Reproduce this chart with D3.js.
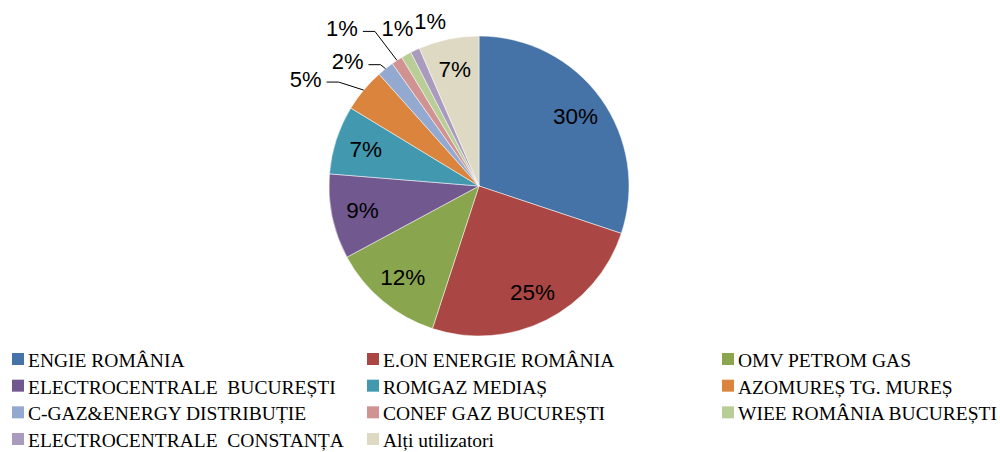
<!DOCTYPE html>
<html>
<head>
<meta charset="utf-8">
<script src="https://cdn.jsdelivr.net/npm/d3@7"></script>
<style>
  body { margin: 0; background: #fff; }
  svg text { white-space: pre; }
</style>
</head>
<body>
<div id="chart"></div>
<script>
// share of gas consumption per user
var names = ["ENGIE ROMÂNIA", "E.ON ENERGIE ROMÂNIA", "OMV PETROM GAS",
    "ELECTROCENTRALE  BUCUREȘTI", "ROMGAZ MEDIAȘ", "AZOMUREȘ TG. MUREȘ",
    "C-GAZ&ENERGY DISTRIBUȚIE", "CONEF GAZ BUCUREȘTI", "WIEE ROMÂNIA BUCUREȘTI",
    "ELECTROCENTRALE  CONSTANȚA", "Alți utilizatori"]
var shares = [30.1, 24.9, 12.1, 9.15, 7.4, 4.7, 1.8, 1.2, 1.1, 1.0, 6.5]
var labels = ["30%", "25%", "12%", "9%", "7%", "5%", "2%", "1%", "1%", "1%", "7%"]
var colors = ["#4572A7", "#AA4643", "#89A54E", "#71588F", "#4198AF", "#DB843D",
    "#93A9CF", "#D19392", "#B9CD96", "#A99BBD", "#DDD9C3"]

// small slices get their label outside, nudged from the slice edge (layout only)
var outside = { 5: [-58, -11, true], 6: [-38, -7, true], 7: [-55, -32, true], 8: [-9, -26, false], 9: [15, -29, false] }

var width = 1000, height = 452
var cx = 479, cy = 186, radius = 150

var svg = d3.select("#chart").append("svg")
    .attr("width", width)
    .attr("height", height)

var g = svg.append("g")
    .attr("transform", "translate(" + cx + "," + cy + ")")

var pie = d3.pie().sort(null).value(function (d) { return d })
var arcs = pie(shares)

var arc = d3.arc().innerRadius(0).outerRadius(radius)
var labelArc = d3.arc().innerRadius(119).outerRadius(119)
var edgeArc = d3.arc().innerRadius(radius).outerRadius(radius)

g.selectAll("path.slice")
    .data(arcs)
    .enter()
    .append("path")
    .attr("class", "slice")
    .attr("d", arc)
    .attr("fill", function (d, i) { return colors[i] })
    .attr("stroke", "#fff")
    .attr("stroke-width", 0.5)

var font = "'Liberation Sans', Arial, sans-serif"

arcs.forEach(function (d, i) {
    var o = outside[i]
    if (!o) {
        var p = labelArc.centroid(d)
        g.append("text")
            .attr("x", p[0])
            .attr("y", p[1])
            .attr("text-anchor", "middle")
            .attr("dominant-baseline", "central")
            .attr("font-family", font)
            .attr("font-size", 22.5)
            .attr("fill", "#000")
            .text(labels[i])
        return
    }
    var e = edgeArc.centroid(d)
    var lx = e[0] + o[0], ly = e[1] + o[1]
    var t = g.append("text")
        .attr("x", lx)
        .attr("y", ly)
        .attr("text-anchor", "middle")
        .attr("dominant-baseline", "central")
        .attr("font-family", font)
        .attr("font-size", 22)
        .attr("fill", "#000")
        .text(labels[i])
    if (o[2]) {
        var w = t.node().getComputedTextLength()
        var sx = lx + w / 2 + 5
        var sy = ly + 3
        g.append("polyline")
            .attr("points", [[sx, sy], [sx + 12, sy], [e[0], e[1]]].map(function (q) { return q.join(",") }).join(" "))
            .attr("fill", "none")
            .attr("stroke", "#000")
            .attr("stroke-width", 1)
    }
})

// legend, 3 columns
var legend = svg.append("g")
var colX = d3.scalePoint().domain([0, 1, 2]).range([12, 722])
var rowY = d3.scalePoint().domain([0, 1, 2, 3]).range([367, 447])

names.forEach(function (n, i) {
    var x = colX(i % 3), y = rowY(Math.floor(i / 3))
    legend.append("rect")
        .attr("x", x)
        .attr("y", y - 14)
        .attr("width", 12)
        .attr("height", 12)
        .attr("fill", colors[i])
    legend.append("text")
        .attr("x", x + 16)
        .attr("y", y)
        .attr("font-family", "'Liberation Serif', 'DejaVu Serif', serif")
        .attr("font-size", 19.5)
        .attr("fill", "#000")
        .text(n)
})
</script>
</body>
</html>
